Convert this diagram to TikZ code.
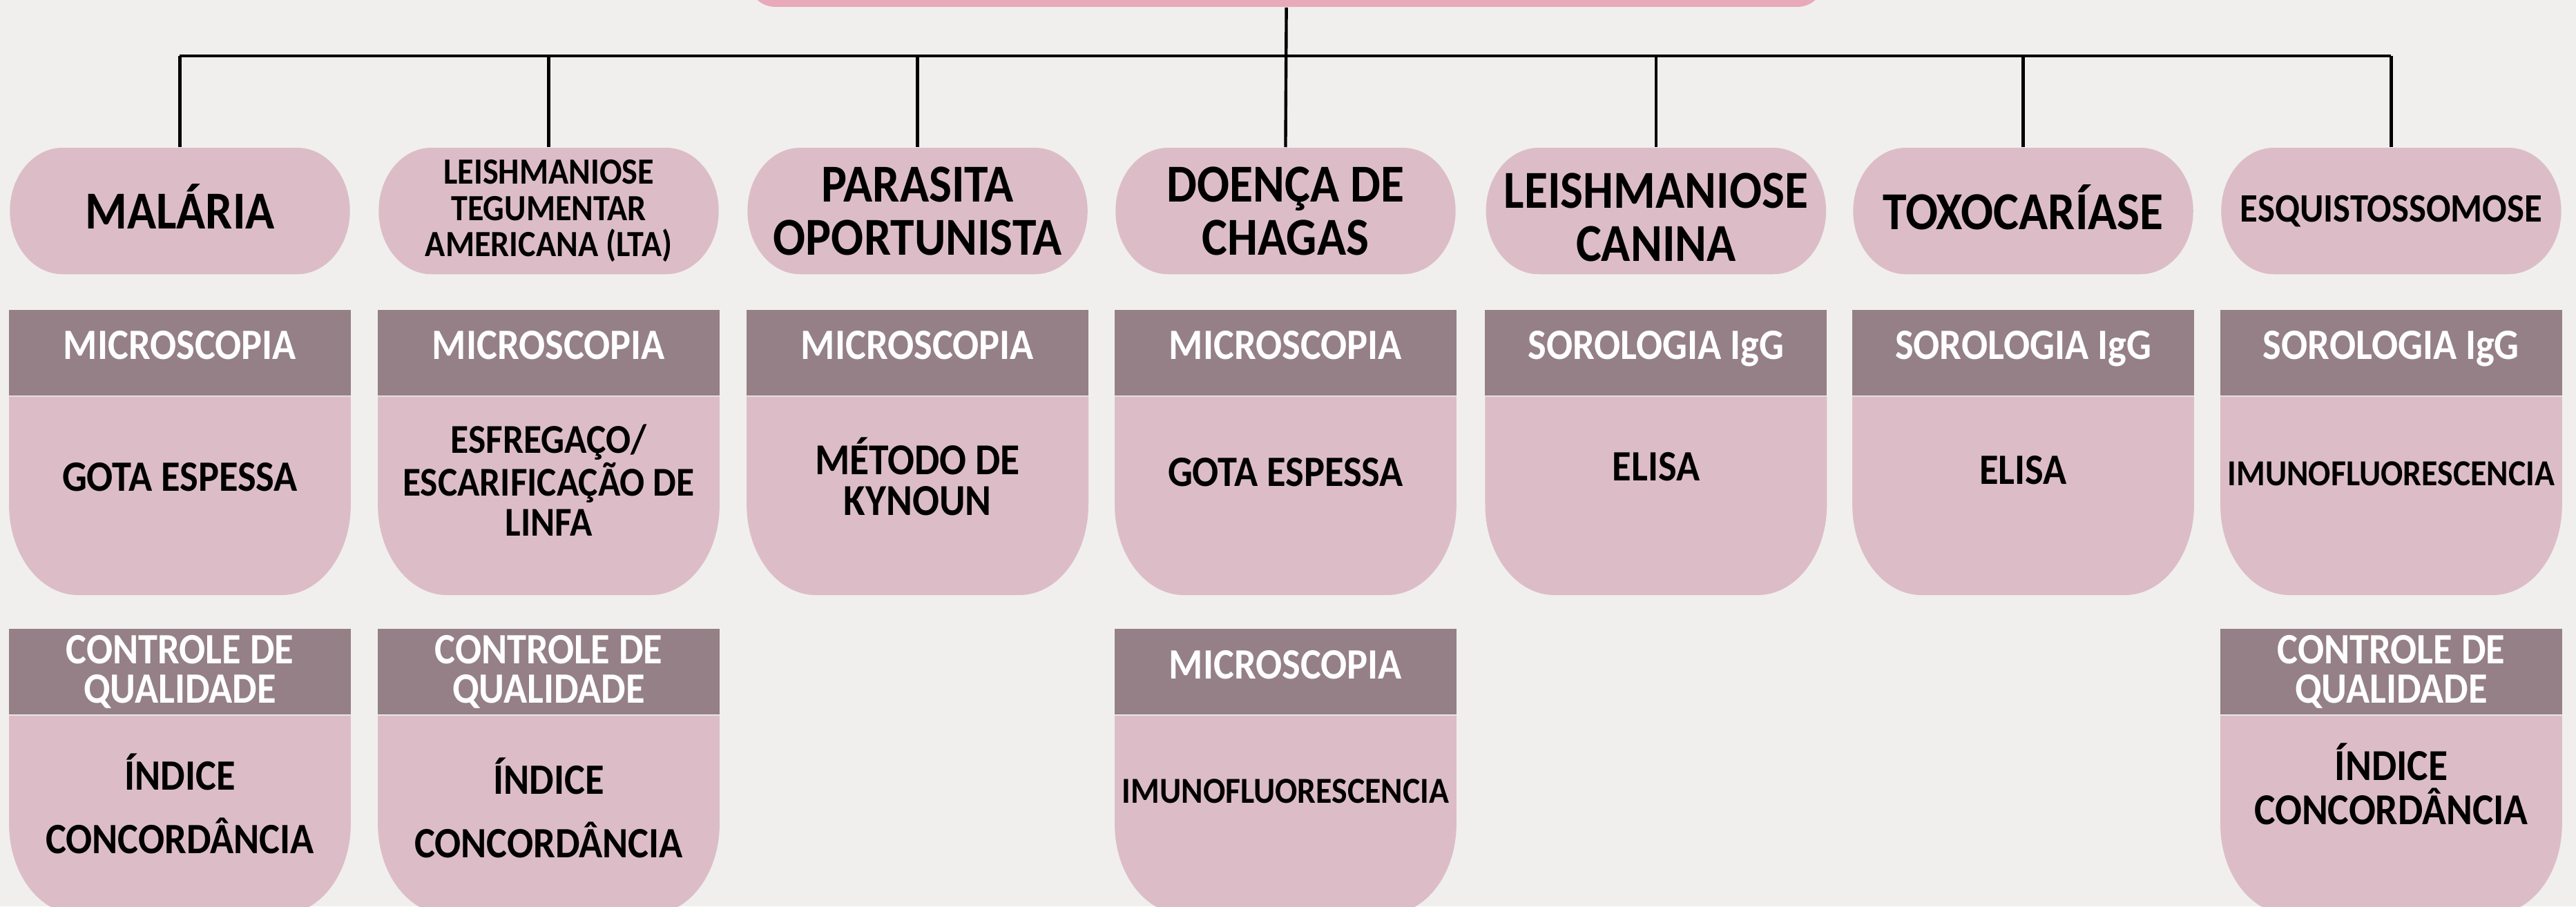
\documentclass[tikz,border=0pt]{standalone}
\usepackage{fontspec}
\setmainfont{Carlito}[FakeStretch=0.9]
\usetikzlibrary{positioning}

\definecolor{bgcolor}{HTML}{F0EFED}
\definecolor{boxpink}{HTML}{DCBDC7}
\definecolor{headgray}{HTML}{948086}
\definecolor{rootpink}{HTML}{E8A9BB}

\begin{document}
\begin{tikzpicture}[
    node distance=0.42cm,
    disease/.style={rectangle, minimum width=4.14cm, minimum height=1.54cm, inner sep=1pt, align=center,
        font=\fontsize{18.5}{18.5}\selectfont\bfseries,
        path picture={\fill[boxpink] ([xshift=6.4mm]path picture bounding box.north west)
            -- ([xshift=-6.4mm]path picture bounding box.north east)
            arc[start angle=90, end angle=-90, x radius=6.4mm, y radius=7.7mm]
            -- ([xshift=6.4mm]path picture bounding box.south west)
            arc[start angle=270, end angle=90, x radius=6.4mm, y radius=7.7mm] -- cycle;}},
    headbox/.style={rectangle, fill=headgray, text=white, minimum width=4.16cm, minimum height=1.04cm,
        inner sep=0pt, align=center, font=\fontsize{15}{13.6}\selectfont\bfseries},
    oneline/.style={text height=0.34cm, text depth=0.17cm},
    bodybox/.style={rectangle, minimum width=4.16cm, minimum height=2.42cm, inner sep=0pt,
        path picture={\fill[boxpink] (path picture bounding box.north west)
            -- (path picture bounding box.north east)
            -- ([yshift=11mm]path picture bounding box.south east)
            arc[start angle=0, end angle=-90, x radius=8.4mm, y radius=11mm]
            -- ([xshift=8.4mm]path picture bounding box.south west)
            arc[start angle=270, end angle=180, x radius=8.4mm, y radius=11mm] -- cycle;}},
    bodytext/.style={align=center, font=\fontsize{15}{14}\selectfont\bfseries},
    link/.style={line width=1.05pt}
]
    \path[use as bounding box, clip] (0,0) rectangle (31.36,-11.04);
    \fill[bgcolor] (0,0) rectangle (31.36,-11.04);

    % top box (cut by the page edge)
    \node[rectangle, rounded corners=0.33cm, fill=rootpink, minimum width=13.1cm, minimum height=1.6cm] (root) at (15.66,0.716) {};

    % diseases
    \node[disease, text depth=0.12cm] (malaria) at (2.19,-2.57) {MALÁRIA};
    \node[disease, font=\fontsize{12.8}{12.5}\selectfont\bfseries] (lta) at (6.68,-2.57) {LEISHMANIOSE\\TEGUMENTAR\\AMERICANA (LTA)};
    \node[disease] (parasita) at (11.17,-2.57) {PARASITA\\OPORTUNISTA};
    \node[disease] (chagas) at (15.65,-2.57) {DOENÇA DE\\CHAGAS};
    \node[disease, text height=1.23cm] (canina) at (20.16,-2.57) {LEISHMANIOSE\\CANINA};
    \node[disease, text depth=0.1cm] (toxo) at (24.63,-2.57) {TOXOCARÍASE};
    \node[disease, font=\fontsize{14}{14}\selectfont\bfseries] (esquisto) at (29.11,-2.57) {ESQUISTOSSOMOSE};

    % first exam row
    \node[headbox, oneline, below=of malaria] (malariaHead) {MICROSCOPIA};
    \node[bodybox, below=0pt of malariaHead, label={[bodytext, yshift=0.23cm]center:GOTA ESPESSA}] (malariaBody) {};
    \node[headbox, oneline, below=of lta] (ltaHead) {MICROSCOPIA};
    \node[bodybox, below=0pt of ltaHead, label={[bodytext, font=\fontsize{14.2}{13.9}\selectfont\bfseries, yshift=0.19cm]center:ESFREGAÇO/\\ESCARIFICAÇÃO DE\\LINFA}] (ltaBody) {};
    \node[headbox, oneline, below=of parasita] (parasitaHead) {MICROSCOPIA};
    \node[bodybox, below=0pt of parasitaHead, label={[bodytext, font=\fontsize{15.3}{14.1}\selectfont\bfseries, yshift=0.23cm]center:MÉTODO DE\\KYNOUN}] (parasitaBody) {};
    \node[headbox, oneline, below=of chagas] (chagasHead) {MICROSCOPIA};
    \node[bodybox, below=0pt of chagasHead, label={[bodytext, yshift=0.29cm]center:GOTA ESPESSA}] (chagasBody) {};
    \node[headbox, oneline, below=of canina] (caninaHead) {SOROLOGIA IgG};
    \node[bodybox, below=0pt of caninaHead, label={[bodytext, yshift=0.35cm]center:ELISA}] (caninaBody) {};
    \node[headbox, oneline, below=of toxo] (toxoHead) {SOROLOGIA IgG};
    \node[bodybox, below=0pt of toxoHead, label={[bodytext, yshift=0.31cm]center:ELISA}] (toxoBody) {};
    \node[headbox, oneline, below=of esquisto] (esquistoHead) {SOROLOGIA IgG};
    \node[bodybox, below=0pt of esquistoHead, label={[bodytext, font=\fontsize{12.7}{12.7}\selectfont\bfseries, yshift=0.27cm]center:IMUNOFLUORESCENCIA}] (esquistoBody) {};

    % second exam row
    \node[headbox, below=0.4cm of malariaBody] (malariaQc) {CONTROLE DE\\QUALIDADE};
    \node[bodybox, below=0pt of malariaQc, label={[bodytext, yshift=0.14cm]center:ÍNDICE\\[8pt]CONCORDÂNCIA}] (malariaQcBody) {};
    \node[headbox, below=0.4cm of ltaBody] (ltaQc) {CONTROLE DE\\QUALIDADE};
    \node[bodybox, below=0pt of ltaQc, label={[bodytext, yshift=0.09cm]center:ÍNDICE\\[8pt]CONCORDÂNCIA}] (ltaQcBody) {};
    \node[headbox, oneline, below=0.4cm of chagasBody] (chagasHead2) {MICROSCOPIA};
    \node[bodybox, below=0pt of chagasHead2, label={[bodytext, font=\fontsize{12.7}{12.7}\selectfont\bfseries, yshift=0.29cm]center:IMUNOFLUORESCENCIA}] (chagasBody2) {};
    \node[headbox, below=0.4cm of esquistoBody] (esquistoQc) {CONTROLE DE\\QUALIDADE};
    \node[bodybox, below=0pt of esquistoQc, label={[bodytext, font=\fontsize{15.3}{15.3}\selectfont\bfseries, yshift=0.38cm]center:ÍNDICE\\CONCORDÂNCIA}] (esquistoQcBody) {};

    % connectors
    \coordinate (bar) at (0,-0.68);
    \draw[link] (root.south) -- (chagas.north);
    \draw[link] (malaria.north |- bar) -- (esquisto.north |- bar);
    \foreach \d in {malaria, lta, parasita, canina, toxo, esquisto}
        \draw[link] (\d.north |- bar) -- (\d.north);
\end{tikzpicture}
\end{document}
